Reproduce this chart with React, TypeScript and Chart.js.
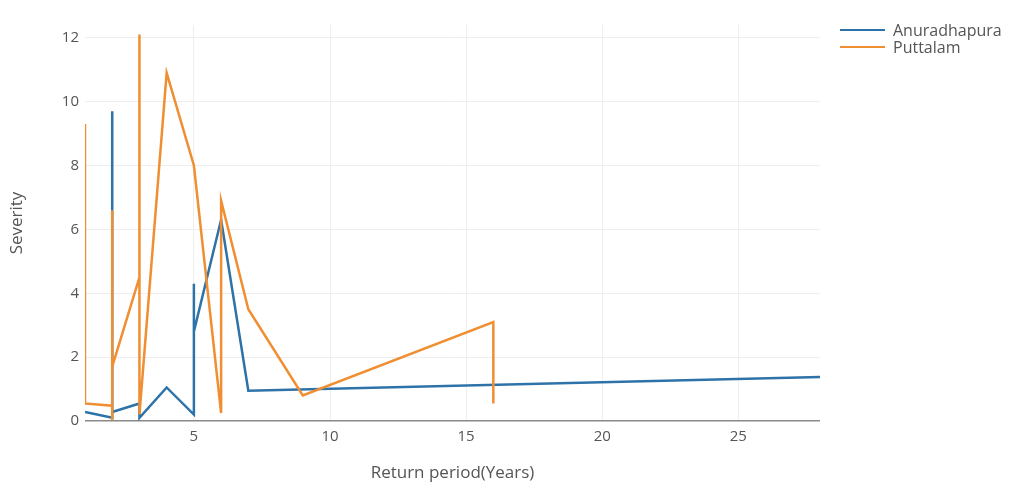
import React, { useEffect, useRef } from "react";
import { Chart, registerables } from "chart.js";

Chart.register(...registerables);

const seriesNames = ["Anuradhapura", "Puttalam"];
const seriesColors = ["#2d72a8", "#f08e32"];

const anuradhapuraX = [1, 2, 2, 2, 3, 3, 4, 5, 5, 5, 6, 7, 28];
const anuradhapuraY = [0.28, 0.1, 9.7, 0.28, 0.55, 0.1, 1.05, 0.2, 4.3, 2.8, 6.3, 0.95, 1.38];

const puttalamX = [1, 1, 2, 2, 2, 2, 3, 3, 3, 4, 5, 6, 6, 7, 9, 16, 16];
const puttalamY = [9.3, 0.55, 0.48, 0.02, 6.6, 1.7, 4.5, 12.1, 0.2, 10.9, 8.0, 0.25, 6.9, 3.5, 0.8, 3.1, 0.55];

const xTicks = [5, 10, 15, 20, 25];
const yTicks = [0, 2, 4, 6, 8, 10, 12];

const xTitle = "Return period(Years)";
const yTitle = "Severity";

const FONT = "'Open Sans', sans-serif";

export default function App() {
  const ref = useRef<HTMLCanvasElement | null>(null);

  useEffect(() => {
    if (!ref.current) return;
    const toPts = (xs: number[], ys: number[]) => xs.map((x, i) => ({ x, y: ys[i] }));
    const chart = new Chart(ref.current, {
      type: "line",
      data: {
        datasets: [
          {
            label: seriesNames[0],
            data: toPts(anuradhapuraX, anuradhapuraY),
            borderColor: seriesColors[0],
            backgroundColor: seriesColors[0],
            borderWidth: 2.5,
            pointRadius: 0,
            tension: 0,
            order: 1,
          },
          {
            label: seriesNames[1],
            data: toPts(puttalamX, puttalamY),
            borderColor: seriesColors[1],
            backgroundColor: seriesColors[1],
            borderWidth: 2.5,
            pointRadius: 0,
            tension: 0,
            order: 0,
          },
        ],
      },
      options: {
        animation: false,
        responsive: false,
        devicePixelRatio: 1,
        layout: { padding: { left: 0, right: 204, top: 25, bottom: 0 } },
        plugins: { legend: { display: false }, tooltip: { enabled: false } },
        scales: {
          x: {
            type: "linear",
            min: 1,
            max: 28,
            afterBuildTicks: (s: any) => {
              s.ticks = xTicks.map((v) => ({ value: v }));
            },
            afterFit: (s: any) => {
              s.height = 65;
            },
            grid: { color: "#eeeeee", lineWidth: 1, drawTicks: false },
            border: { display: false },
            ticks: {
              color: "#555",
              font: { family: FONT, size: 15 },
              padding: 7,
              maxRotation: 0,
            },
            title: {
              display: true,
              text: xTitle,
              color: "#555",
              font: { family: FONT, size: 17 },
              padding: { top: 0, bottom: 3 },
            },
          },
          y: {
            type: "linear",
            min: 0,
            max: 12.4,
            afterBuildTicks: (s: any) => {
              s.ticks = yTicks.map((v) => ({ value: v }));
            },
            afterFit: (s: any) => {
              s.width = 85;
            },
            grid: {
              color: (ctx: any) => (ctx.tick && ctx.tick.value === 0 ? "#8a8a8a" : "#eeeeee"),
              lineWidth: (ctx: any) => (ctx.tick && ctx.tick.value === 0 ? 1.5 : 1),
              drawTicks: false,
            },
            border: { display: false },
            ticks: {
              color: "#555",
              font: { family: FONT, size: 15 },
              padding: 6,
            },
            title: {
              display: true,
              text: yTitle,
              color: "#555",
              font: { family: FONT, size: 17 },
              padding: { top: 7, bottom: 0 },
            },
          },
        },
      },
    });
    return () => chart.destroy();
  }, []);

  return (
    <div style={{ position: "fixed", left: 0, top: 0, width: 1024, height: 486, background: "#fff" }}>
      <canvas ref={ref} width={1024} height={486} style={{ position: "absolute", left: 0, top: 0 }} />
      {seriesNames.map((n, i) => (
        <div
          key={n}
          style={{
            position: "absolute",
            left: 840,
            top: 20 + i * 17,
            height: 20,
            display: "flex",
            alignItems: "center",
            fontFamily: FONT,
            fontSize: 16,
            color: "#555",
            whiteSpace: "nowrap",
          }}
        >
          <span style={{ display: "inline-block", width: 45, height: 2.5, background: seriesColors[i], marginRight: 8 }} />
          {n}
        </div>
      ))}
    </div>
  );
}
